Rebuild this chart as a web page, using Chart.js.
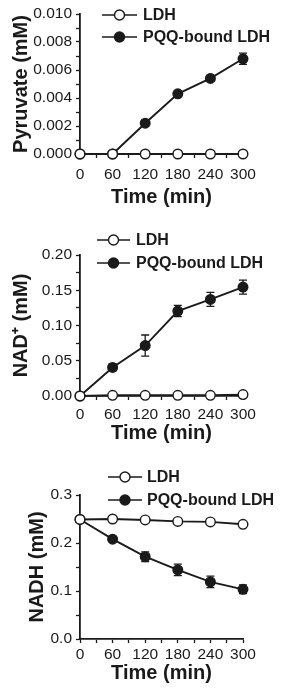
<!DOCTYPE html>
<html>
<head>
<meta charset="utf-8">
<script src="https://cdn.jsdelivr.net/npm/chart.js@4/dist/chart.umd.min.js"></script>
<style>
  html, body { margin: 0; padding: 0; background: #fff; }
  #wrap { position: relative; width: 297px; height: 691px; overflow: hidden; }
  .c { position: absolute; left: 0; width: 297px; }
</style>
</head>
<body>
<div id="wrap">
  <div class="c" id="b1" style="top:0px;height:215px"><canvas id="c1"></canvas></div>
  <div class="c" id="b2" style="top:215px;height:230px"><canvas id="c2"></canvas></div>
  <div class="c" id="b3" style="top:455px;height:236px"><canvas id="c3"></canvas></div>
</div>
<script>
// ---- data ----
const times = [0, 60, 120, 180, 240, 300];
const seriesNames = ['LDH', 'PQQ-bound LDH'];
const xTickLabels = ['0', '60', '120', '180', '240', '300'];

const pyruvateLDH = [0, 0, 0, 0, 0, 0];
const pyruvatePQQ = [0, 0, 0.0022, 0.0043, 0.0054, 0.0068];
const pyruvatePQQErr = [0, 0, 0.0002, 0.0001, 0.00015, 0.0004];
const pyruvateLDHErr = [0, 0, 0, 0, 0, 0];
const pyruvateTicks = ['0.000', '0.002', '0.004', '0.006', '0.008', '0.010'];

const nadLDH = [0, 0.001, 0.001, 0.001, 0.001, 0.002];
const nadPQQ = [0, 0.0405, 0.0715, 0.1205, 0.137, 0.1545];
const nadPQQErr = [0, 0.005, 0.015, 0.008, 0.01, 0.01];
const nadLDHErr = [0, 0, 0, 0, 0, 0.001];
const nadTicks = ['0.00', '0.05', '0.10', '0.15', '0.20'];

const nadhLDH = [0.249, 0.25, 0.248, 0.245, 0.244, 0.239];
const nadhPQQ = [0.249, 0.208, 0.1715, 0.144, 0.119, 0.1035];
const nadhPQQErr = [0, 0.005, 0.01, 0.012, 0.012, 0.009];
const nadhLDHErr = [0, 0, 0, 0, 0, 0];
const nadhTicks = ['0.0', '0.1', '0.2', '0.3'];

// ---- helpers ----
const TICK_FONT = { family: 'Liberation Sans, Arial, sans-serif', size: 15.5 };
const TITLE_FONT = { family: 'Liberation Sans, Arial, sans-serif', size: 20, weight: 'bold' };
const INK = '#1a1a1a';

const errorBars = {
  id: 'errorBars',
  beforeDatasetsDraw(chart, args, opts) {
    const ctx = chart.ctx;
    const ys = chart.scales.y, xs = chart.scales.x;
    ctx.save();
    ctx.strokeStyle = INK;
    ctx.lineWidth = 1.3;
    chart.data.datasets.forEach(ds => {
      (ds.err || []).forEach((e, i) => {
        if (!e) return;
        const x = xs.getPixelForValue(ds.data[i].x);
        const y1 = ys.getPixelForValue(ds.data[i].y - e);
        const y2 = ys.getPixelForValue(ds.data[i].y + e);
        ctx.beginPath();
        ctx.moveTo(x, y1); ctx.lineTo(x, y2);
        ctx.moveTo(x - 4, y1); ctx.lineTo(x + 4, y1);
        ctx.moveTo(x - 4, y2); ctx.lineTo(x + 4, y2);
        ctx.stroke();
      });
    });
    ctx.restore();
  }
};

const customLegend = {
  id: 'customLegend',
  afterDraw(chart, args, opts) {
    const ctx = chart.ctx;
    ctx.save();
    chart.data.datasets.forEach((ds, i) => {
      const y = opts.rows[i];
      ctx.strokeStyle = INK;
      ctx.lineWidth = 1.7;
      ctx.beginPath();
      ctx.moveTo(opts.x1, y); ctx.lineTo(opts.x2, y);
      ctx.stroke();
      ctx.beginPath();
      ctx.arc((opts.x1 + opts.x2) / 2, y, 5, 0, Math.PI * 2);
      ctx.fillStyle = ds.pointBackgroundColor;
      ctx.fill();
      ctx.lineWidth = 1.4;
      ctx.stroke();
      ctx.fillStyle = INK;
      ctx.font = 'bold 16px "Liberation Sans", Arial, sans-serif';
      ctx.textBaseline = 'middle';
      ctx.textAlign = 'left';
      ctx.fillText(ds.label, opts.tx, y + 1);
    });
    ctx.restore();
  }
};

function mkDataset(label, vals, errs, filled) {
  return {
    label,
    data: times.map((t, i) => ({ x: t, y: vals[i] })),
    err: errs,
    borderColor: INK,
    borderWidth: 1.9,
    pointRadius: 4.8,
    pointBorderWidth: 1.4,
    pointBorderColor: INK,
    pointBackgroundColor: filled ? INK : '#ffffff',
    backgroundColor: filled ? INK : '#ffffff',
    tension: 0,
    clip: false
  };
}

function mkChart(id, cfg) {
  const majors = cfg.yTicks.map(Number);
  const yMajor = majors[1] - majors[0];
  return new Chart(document.getElementById(id), {
    type: 'line',
    data: {
      datasets: [
        mkDataset(seriesNames[0], cfg.ldh, cfg.ldhErr, false),
        mkDataset(seriesNames[1], cfg.pqq, cfg.pqqErr, true)
      ]
    },
    options: {
      responsive: true,
      maintainAspectRatio: false,
      animation: false,
      events: [],
      layout: { padding: { top: cfg.padTop, left: cfg.padLeft, right: 297 - 243, bottom: 0 } },
      plugins: {
        legend: { display: false },
        tooltip: { enabled: false },
        customLegend: cfg.legend
      },
      scales: {
        x: {
          type: 'linear',
          min: 0, max: 300,
          border: { color: INK, width: 1.8 },
          grid: { drawOnChartArea: false, tickLength: 4, tickColor: INK, tickWidth: 1.3 },
          ticks: {
            stepSize: 30,
            autoSkip: false,
            maxRotation: 0,
            color: INK,
            font: TICK_FONT,
            padding: cfg.xTickPad,
            callback: (v) => {
              const idx = times.indexOf(v);
              return idx >= 0 ? xTickLabels[idx] : '';
            }
          },
          title: { display: true, text: 'Time (min)', color: INK, font: TITLE_FONT, padding: { top: 0, bottom: cfg.xTitlePad } },
          afterFit: (s) => { s.height = cfg.xHeight; }
        },
        y: {
          type: 'linear',
          min: majors[0], max: majors[majors.length - 1],
          border: { color: INK, width: 1.8 },
          grid: { drawOnChartArea: false, tickLength: 4, tickColor: INK, tickWidth: 1.3 },
          ticks: {
            stepSize: yMajor / 2,
            autoSkip: false,
            color: INK,
            font: TICK_FONT,
            padding: 4,
            callback: (v) => {
              const k = v / yMajor;
              if (Math.abs(k - Math.round(k)) < 1e-6) return cfg.yTicks[Math.round(k)];
              return '';
            }
          },
          title: { display: true, text: cfg.yTitle, color: INK, font: TITLE_FONT, padding: { top: 0, bottom: 0 } },
          afterFit: (s) => { s.width = 80 - cfg.padLeft; }
        }
      }
    },
    plugins: [errorBars, customLegend]
  });
}

mkChart('c1', {
  ldh: pyruvateLDH, pqq: pyruvatePQQ, ldhErr: pyruvateLDHErr, pqqErr: pyruvatePQQErr,
  yTicks: pyruvateTicks, yTitle: 'Pyruvate (mM)',
  padTop: 14, padLeft: 9, xHeight: 61, xTickPad: 7, xTitlePad: 6,
  legend: { rows: [15, 37], x1: 102, x2: 137, tx: 143 }
});
mkChart('c2', {
  ldh: nadLDH, pqq: nadPQQ, ldhErr: nadLDHErr, pqqErr: nadPQQErr,
  yTicks: nadTicks, yTitle: 'NAD\u207A (mM)',
  padTop: 40, padLeft: 9, xHeight: 49, xTickPad: 5, xTitlePad: 0,
  legend: { rows: [25, 48], x1: 97, x2: 130, tx: 136 }
});
mkChart('c3', {
  ldh: nadhLDH, pqq: nadhPQQ, ldhErr: nadhLDHErr, pqqErr: nadhPQQErr,
  yTicks: nadhTicks, yTitle: 'NADH (mM)',
  padTop: 40, padLeft: 25, xHeight: 52, xTickPad: 2, xTitlePad: 6,
  legend: { rows: [22, 45], x1: 108, x2: 142, tx: 147 }
});
</script>
</body>
</html>
